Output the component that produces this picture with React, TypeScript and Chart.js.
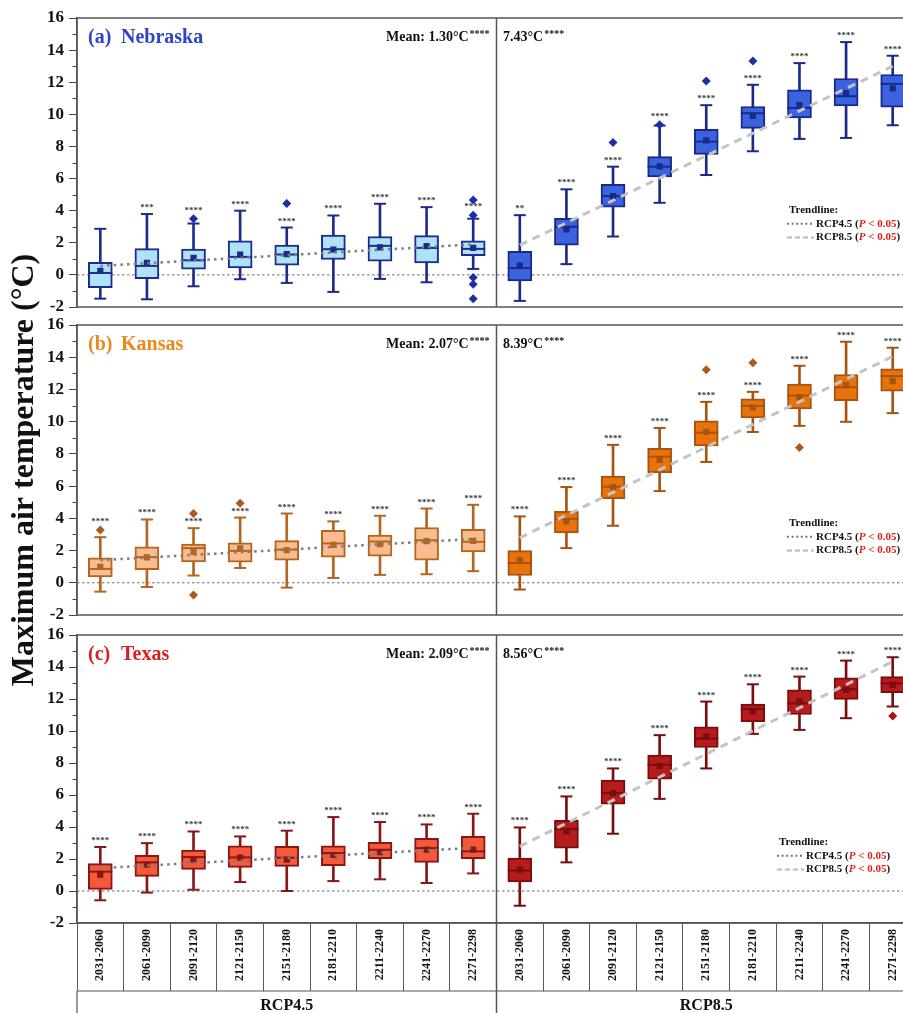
import React, { useEffect, useRef } from 'react';
import { Chart, registerables } from 'chart.js';

Chart.register(...registerables);

const SERIF = '"Liberation Serif", "Times New Roman", serif';

// ---------- categories ----------
const periods = ['2031-2060', '2061-2090', '2091-2120', '2121-2150', '2151-2180', '2181-2210', '2211-2240', '2241-2270', '2271-2298'];
const scenarios = ['RCP4.5', 'RCP8.5'];
const xLabels = scenarios.flatMap((s) => periods.map((p) => `${s} ${p}`));
const yAxisTitle = 'Maximum air temperature (°C)';
const yMin = -2;
const yMax = 16;
const yStep = 2;

// ---------- (a) Nebraska ----------
const neMin = [-1.48, -1.52, -0.71, -0.27, -0.5, -1.06, -0.25, -0.46, 0.37, -1.62, 0.67, 2.39, 4.49, 6.22, 7.7, 8.47, 8.53, 9.32];
const neQ1 = [-0.79, -0.23, 0.35, 0.44, 0.6, 0.96, 0.85, 0.75, 1.19, -0.38, 1.85, 4.22, 6.1, 7.51, 9.13, 9.78, 10.53, 10.44];
const neMed = [0.12, 0.56, 0.91, 1.12, 1.27, 1.6, 1.81, 1.68, 1.62, 0.42, 3.0, 4.91, 6.74, 8.3, 10.07, 10.4, 11.13, 11.9];
const neQ3 = [0.79, 1.64, 1.6, 2.12, 1.85, 2.48, 2.39, 2.45, 2.12, 1.47, 3.52, 5.64, 7.37, 9.07, 10.49, 11.53, 12.23, 12.48];
const neMax = [2.87, 3.79, 3.2, 4.0, 2.95, 3.7, 4.43, 4.22, 3.5, 3.72, 5.33, 6.74, 9.3, 10.57, 11.84, 13.19, 14.5, 13.65];
const neMean = [0.25, 0.75, 1.06, 1.27, 1.29, 1.58, 1.71, 1.79, 1.68, 0.58, 2.83, 4.91, 6.76, 8.38, 9.9, 10.57, 11.32, 11.61];
const neOutliers = [[2, 3.5], [4, 4.45], [8, 4.66], [8, 3.72], [8, -0.17], [8, -0.58], [8, -1.48], [11, 8.24], [12, 9.35], [13, 12.07], [14, 13.32]];
const neStars = ['', '***', '****', '****', '****', '****', '****', '****', '****', '**', '****', '****', '****', '****', '****', '****', '****', '****'];
const neTrend45 = [0.56, 1.9];
const neTrend85 = [1.85, 13.0];

// ---------- (b) Kansas ----------
const ksMin = [-0.55, -0.26, 0.45, 0.92, -0.3, 0.3, 0.49, 0.53, 0.72, -0.42, 2.15, 3.54, 5.69, 7.5, 9.36, 9.74, 9.99, 10.53];
const ksQ1 = [0.36, 0.82, 1.3, 1.28, 1.4, 1.59, 1.65, 1.4, 1.92, 0.45, 3.1, 5.22, 6.83, 8.49, 10.23, 10.79, 11.31, 11.89];
const ksMed = [0.86, 1.59, 2.15, 1.98, 2.06, 2.44, 2.56, 2.64, 2.54, 1.23, 3.97, 5.96, 7.83, 9.32, 10.98, 11.62, 12.14, 12.83];
const ksQ3 = [1.55, 2.23, 2.4, 2.48, 2.62, 3.25, 2.96, 3.43, 3.31, 2.0, 4.43, 6.63, 8.35, 10.05, 11.42, 12.33, 12.93, 13.28];
const ksMax = [2.83, 3.93, 3.39, 4.05, 4.3, 3.81, 4.16, 4.61, 4.84, 4.12, 5.94, 8.56, 9.61, 11.23, 11.85, 13.47, 14.96, 14.59];
const ksMean = [0.99, 1.57, 1.92, 2.13, 2.02, 2.35, 2.4, 2.58, 2.6, 1.4, 3.81, 5.94, 7.62, 9.36, 10.88, 11.52, 12.27, 12.52];
const ksOutliers = [[0, 3.27], [2, 4.3], [2, -0.76], [3, 4.93], [13, 13.22], [14, 13.66], [15, 8.39]];
const ksStars = ['****', '****', '****', '****', '****', '****', '****', '****', '****', '****', '****', '****', '****', '****', '****', '****', '****', '****'];
const ksTrend45 = [1.4, 2.72];
const ksTrend85 = [2.79, 14.05];

// ---------- (c) Texas ----------
const txMin = [-0.58, -0.1, 0.08, 0.56, 0.0, 0.62, 0.73, 0.5, 1.1, -0.92, 1.79, 3.58, 5.76, 7.66, 9.82, 10.07, 10.8, 11.53];
const txQ1 = [0.1, 0.91, 1.35, 1.48, 1.54, 1.58, 2.02, 1.79, 2.02, 0.56, 2.68, 5.43, 6.99, 8.97, 10.59, 11.03, 11.98, 12.4];
const txMed = [1.21, 1.79, 2.12, 2.1, 2.08, 2.37, 2.58, 2.68, 2.48, 1.29, 3.87, 6.12, 7.89, 9.53, 11.38, 11.73, 12.61, 12.98];
const txQ3 = [1.71, 2.23, 2.56, 2.83, 2.79, 2.83, 3.04, 3.29, 3.41, 2.06, 4.41, 6.93, 8.49, 10.26, 11.69, 12.57, 13.32, 13.4];
const txMax = [2.75, 2.99, 3.72, 3.41, 3.77, 4.62, 4.31, 4.16, 4.83, 3.97, 5.91, 7.66, 9.74, 11.84, 12.92, 13.4, 14.4, 14.61];
const txMean = [1.02, 1.64, 1.96, 2.08, 1.96, 2.25, 2.43, 2.58, 2.58, 1.33, 3.72, 6.12, 7.82, 9.65, 11.23, 11.84, 12.57, 12.88];
const txOutliers = [[17, 10.94]];
const txStars = ['****', '****', '****', '****', '****', '****', '****', '****', '****', '****', '****', '****', '****', '****', '****', '****', '****', '****'];
const txTrend45 = [1.43, 2.7];
const txTrend85 = [2.79, 14.34];

type Panel = {
  key: string; tag: string; name: string; mean45: string; mean85: string;
  min: number[]; q1: number[]; med: number[]; q3: number[]; max: number[]; mean: number[];
  outliers: number[][]; stars: string[]; trend45: number[]; trend85: number[];
  fill45: string; line45: string; fill85: string; line85: string; outlierColor: string; titleColor: string;
  padTop: number; padBottom: number; showX: boolean; showYTitle: boolean; legendX: number; legendDy: number;
};

const panels: Panel[] = [
  {
    key: 'ne', tag: '(a)', name: 'Nebraska', mean45: '1.30', mean85: '7.43',
    min: neMin, q1: neQ1, med: neMed, q3: neQ3, max: neMax, mean: neMean,
    outliers: neOutliers, stars: neStars, trend45: neTrend45, trend85: neTrend85,
    fill45: '#aee2f6', line45: '#1e2b8c', fill85: '#3c63de', line85: '#1b2a8a', outlierColor: '#1d2fa6', titleColor: '#2f44c9',
    padTop: 18, padBottom: 706, showX: false, showYTitle: false, legendX: 787, legendDy: 192,
  },
  {
    key: 'ks', tag: '(b)', name: 'Kansas', mean45: '2.07', mean85: '8.39',
    min: ksMin, q1: ksQ1, med: ksMed, q3: ksQ3, max: ksMax, mean: ksMean,
    outliers: ksOutliers, stars: ksStars, trend45: ksTrend45, trend85: ksTrend85,
    fill45: '#f7bd8f', line45: '#b4651f', fill85: '#e8720c', line85: '#a65410', outlierColor: '#b0581a', titleColor: '#e8891c',
    padTop: 325, padBottom: 398, showX: false, showYTitle: true, legendX: 787, legendDy: 198,
  },
  {
    key: 'tx', tag: '(c)', name: 'Texas', mean45: '2.09', mean85: '8.56',
    min: txMin, q1: txQ1, med: txMed, q3: txQ3, max: txMax, mean: txMean,
    outliers: txOutliers, stars: txStars, trend45: txTrend45, trend85: txTrend85,
    fill45: '#f25a3a', line45: '#8a1616', fill85: '#b71c1c', line85: '#7a0d0d', outlierColor: '#a51515', titleColor: '#d9201e',
    padTop: 635, padBottom: 0, showX: true, showYTitle: false, legendX: 777, legendDy: 207,
  },
];

const CANVAS_W = 930;
const CANVAS_H = 1013;

function starAnchor(p: Panel, i: number) {
  let a = p.max[i];
  let isOut = false;
  const ups = p.outliers.filter((o) => o[0] === i && o[1] > a).map((o) => o[1]).sort((m, n) => m - n);
  for (const v of ups) {
    if (v - a <= 0.6) { a = v; isOut = true; }
  }
  return { a, isOut };
}

function decoPlugin(p: Panel) {
  return {
    id: 'deco-' + p.key,
    beforeDatasetsDraw(chart: any) {
      const { ctx, chartArea: a } = chart;
      const y = chart.scales.y;
      const y0 = y.getPixelForValue(0);
      ctx.save();
      ctx.strokeStyle = '#6b6b6b';
      ctx.lineWidth = 1;
      ctx.setLineDash([2.5, 2.5]);
      ctx.beginPath();
      ctx.moveTo(a.left, y0);
      ctx.lineTo(a.right, y0);
      ctx.stroke();
      ctx.restore();
    },
    afterDatasetsDraw(chart: any) {
      const { ctx, chartArea: a } = chart;
      const x = chart.scales.x;
      const y = chart.scales.y;
      const n = periods.length;
      const divX = (x.getPixelForValue(n - 1) + x.getPixelForValue(n)) / 2;
      ctx.save();
      // significance stars
      ctx.font = `bold 9px ${SERIF}`;
      ctx.fillStyle = '#3a3a3a';
      ctx.textAlign = 'center';
      ctx.textBaseline = 'alphabetic';
      p.stars.forEach((s, i) => {
        if (!s) return;
        const { a: v, isOut } = starAnchor(p, i);
        ctx.fillText(s, x.getPixelForValue(i), y.getPixelForValue(v) - (isOut ? 6 : 4));
      });
      // panel titles
      ctx.textAlign = 'left';
      ctx.textBaseline = 'middle';
      ctx.font = `bold 20px ${SERIF}`;
      ctx.fillStyle = p.titleColor;
      ctx.fillText(p.tag, a.left + 11, a.top + 20);
      ctx.fillText(p.name, a.left + 44, a.top + 20);
      // mean values
      ctx.fillStyle = '#111';
      const drawMean = (text: string, x0: number) => {
        ctx.font = `bold 14px ${SERIF}`;
        ctx.fillText(text, x0, a.top + 19);
        const w = ctx.measureText(text).width;
        ctx.font = `bold 10px ${SERIF}`;
        ctx.fillText('****', x0 + w + 1, a.top + 16);
      };
      drawMean(`Mean: ${p.mean45}°C`, divX - 110.5);
      drawMean(`${p.mean85}°C`, divX + 6.5);
      // trendline legend
      const lx = p.legendX;
      const ly = a.top + p.legendDy;
      ctx.font = `bold 11px ${SERIF}`;
      ctx.fillStyle = '#111';
      ctx.fillText('Trendline:', lx + 2, ly);
      const rows = [
        { label: scenarios[0], dash: [2, 2.6], color: '#777', width: 2 },
        { label: scenarios[1], dash: [5, 3], color: '#c6c6c6', width: 2.5 },
      ];
      rows.forEach((r, k) => {
        const yy = ly + 13.8 * (k + 1);
        ctx.save();
        ctx.strokeStyle = r.color;
        ctx.lineWidth = r.width;
        ctx.setLineDash(r.dash);
        ctx.beginPath();
        ctx.moveTo(lx, yy);
        ctx.lineTo(lx + 27, yy);
        ctx.stroke();
        ctx.restore();
        let tx = lx + 29;
        const parts: [string, string, string][] = [
          [r.label + ' (', '#111', 'bold'],
          ['P', '#e0201a', 'italic bold'],
          [' < 0.05', '#e0201a', 'bold'],
          [')', '#111', 'bold'],
        ];
        parts.forEach(([t, c, f]) => {
          ctx.font = `${f} 11px ${SERIF}`;
          ctx.fillStyle = c;
          ctx.fillText(t, tx, yy);
          tx += ctx.measureText(t).width;
        });
      });
      ctx.restore();
    },
    afterDraw(chart: any) {
      const { ctx, chartArea: a } = chart;
      const x = chart.scales.x;
      const y = chart.scales.y;
      const n = periods.length;
      const divX = (x.getPixelForValue(n - 1) + x.getPixelForValue(n)) / 2;
      ctx.save();
      ctx.strokeStyle = '#555';
      ctx.lineWidth = 1.5;
      ctx.strokeRect(a.left, a.top, a.right - a.left, a.bottom - a.top);
      ctx.beginPath();
      ctx.moveTo(divX, a.top);
      ctx.lineTo(divX, p.showX ? chart.height : a.bottom);
      ctx.stroke();
      // minor ticks
      ctx.strokeStyle = '#444';
      ctx.lineWidth = 1;
      for (let v = yMin + 1; v < yMax; v += yStep) {
        const py = Math.round(y.getPixelForValue(v)) + 0.5;
        ctx.beginPath();
        ctx.moveTo(a.left - 4.5, py);
        ctx.lineTo(a.left, py);
        ctx.stroke();
      }
      if (p.showX) {
        const yb = a.bottom + 68;
        ctx.strokeStyle = '#555';
        ctx.lineWidth = 1.2;
        ctx.beginPath();
        ctx.moveTo(a.left, yb);
        ctx.lineTo(a.right, yb);
        ctx.moveTo(a.left, yb);
        ctx.lineTo(a.left, chart.height);
        ctx.moveTo(a.right, yb);
        ctx.lineTo(a.right, chart.height);
        ctx.stroke();
        ctx.font = `bold 16px ${SERIF}`;
        ctx.fillStyle = '#111';
        ctx.textAlign = 'center';
        ctx.textBaseline = 'middle';
        ctx.fillText(scenarios[0], (a.left + divX) / 2, yb + 15);
        ctx.fillText(scenarios[1], (divX + a.right) / 2, yb + 15);
      }
      ctx.restore();
    },
  };
}

function buildConfig(p: Panel): any {
  const idx = xLabels.map((_, i) => i);
  const n = periods.length;
  const fills = idx.map((i) => (i < n ? p.fill45 : p.fill85));
  const lines = idx.map((i) => (i < n ? p.line45 : p.line85));
  const trend45 = idx.map((i) => (i === 0 ? p.trend45[0] : i === n - 1 ? p.trend45[1] : null));
  const trend85 = idx.map((i) => (i === n ? p.trend85[0] : i === xLabels.length - 1 ? p.trend85[1] : null));
  const pts = (label: string, data: any[], extra: any) => ({ type: 'line', label, data, showLine: false, ...extra });
  return {
    type: 'bar',
    data: {
      labels: xLabels,
      datasets: [
        { type: 'line', label: 'RCP4.5 trend', data: trend45, borderColor: '#7d7d7d', borderWidth: 2.5, borderDash: [2.5, 4.2], pointRadius: 0, spanGaps: true, order: 0 },
        { type: 'line', label: 'RCP8.5 trend', data: trend85, borderColor: '#c4c4c4', borderWidth: 3, borderDash: [8, 6], pointRadius: 0, spanGaps: true, order: 0 },
        pts('mean', p.mean, { pointStyle: 'rect', pointRadius: 4.4, pointBackgroundColor: lines, pointBorderWidth: 0, order: 1 }),
        pts('outliers', p.outliers.map(([i, v]) => ({ x: xLabels[i], y: v })), { pointStyle: 'rectRot', pointRadius: 4.5, pointBackgroundColor: p.outlierColor, pointBorderWidth: 0, order: 1 }),
        pts('median', p.med, { pointStyle: 'line', pointRadius: 12, pointBorderColor: lines, pointBorderWidth: 2, order: 2 }),
        pts('max', p.max, { pointStyle: 'line', pointRadius: 6, pointBorderColor: lines, pointBorderWidth: 2, order: 2 }),
        pts('min', p.min, { pointStyle: 'line', pointRadius: 6, pointBorderColor: lines, pointBorderWidth: 2, order: 2 }),
        { type: 'bar', label: 'IQR', data: idx.map((i) => [p.q1[i], p.q3[i]]), backgroundColor: fills, borderColor: lines, borderWidth: 2, borderSkipped: false, barThickness: 24, grouped: false, order: 3 },
        { type: 'bar', label: 'whisker', data: idx.map((i) => [p.min[i], p.max[i]]), backgroundColor: lines, borderWidth: 0, barThickness: 2, grouped: false, order: 4 },
      ],
    },
    options: {
      responsive: false,
      animation: false,
      events: [],
      layout: { padding: { top: p.padTop, bottom: p.padBottom, left: 0, right: 14 } },
      plugins: { legend: { display: false }, tooltip: { enabled: false } },
      scales: {
        x: {
          type: 'category',
          display: p.showX,
          offset: true,
          grid: { display: true, drawOnChartArea: false, offset: true, tickLength: 68, color: '#5a5a5a', lineWidth: 1 },
          border: { display: true, color: '#555', width: 1.5 },
          ticks: {
            autoSkip: false, minRotation: 90, maxRotation: 90, padding: -62, color: '#111',
            font: { family: SERIF, size: 12, weight: 'bold' },
            callback: (_v: any, i: number) => periods[i % n],
          },
          afterFit: p.showX ? (s: any) => { s.height = 90; } : undefined,
        },
        y: {
          min: yMin,
          max: yMax,
          ticks: { stepSize: yStep, padding: 5, color: '#111', font: { family: SERIF, size: 17, weight: 'bold' } },
          grid: { drawOnChartArea: false, tickLength: 8, color: '#444', lineWidth: 1 },
          border: { display: true, color: '#555', width: 1.5 },
          title: { display: p.showYTitle, text: yAxisTitle, color: '#111', font: { family: SERIF, size: 32, weight: 'bold' }, padding: { top: 6, bottom: 0 } },
          afterFit: (s: any) => { s.width = 77; },
        },
      },
    },
    plugins: [decoPlugin(p)],
  };
}

function PanelChart({ panel }: { panel: Panel }) {
  const ref = useRef<HTMLCanvasElement>(null);
  useEffect(() => {
    const chart = new Chart(ref.current as HTMLCanvasElement, buildConfig(panel));
    return () => chart.destroy();
  }, [panel]);
  return (
    <canvas
      ref={ref}
      width={CANVAS_W}
      height={CANVAS_H}
      style={{ position: 'absolute', left: 0, top: 0, width: CANVAS_W, height: CANVAS_H }}
    />
  );
}

export default function App() {
  return (
    <div style={{ position: 'absolute', left: 0, top: 0, width: 903, height: 1013, overflow: 'hidden', background: '#fff' }}>
      {panels.map((p) => (
        <PanelChart key={p.key} panel={p} />
      ))}
    </div>
  );
}
